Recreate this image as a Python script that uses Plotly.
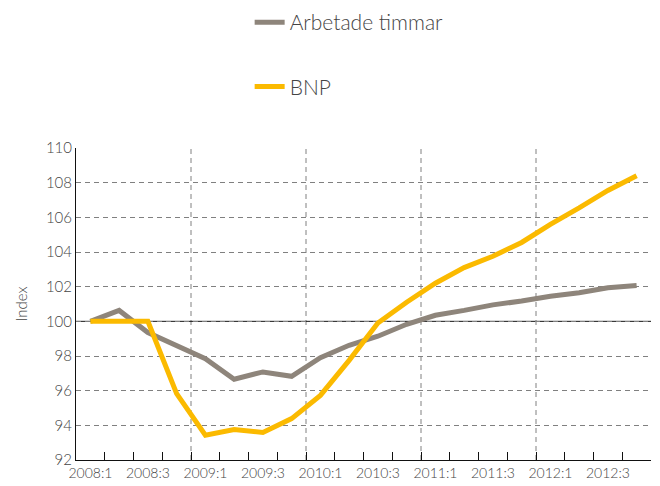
import plotly.graph_objects as go

quarters = ["2008:1", "2008:2", "2008:3", "2008:4",
            "2009:1", "2009:2", "2009:3", "2009:4",
            "2010:1", "2010:2", "2010:3", "2010:4",
            "2011:1", "2011:2", "2011:3", "2011:4",
            "2012:1", "2012:2", "2012:3", "2012:4"]
arbetade_timmar = [100.0, 100.63, 99.35, 98.62, 97.85, 96.66, 97.08, 96.83, 97.9, 98.62,
                   99.14, 99.83, 100.35, 100.63, 100.95, 101.17, 101.45, 101.65, 101.94, 102.07]
bnp = [100.0, 100.0, 100.0, 95.83, 93.43, 93.76, 93.59, 94.39, 95.73, 97.75,
       99.9, 101.1, 102.2, 103.1, 103.75, 104.55, 105.6, 106.55, 107.55, 108.4]
tick_labels = [q if i % 2 == 0 else "" for i, q in enumerate(quarters)]
year_starts = ["2009:1", "2010:1", "2011:1", "2012:1"]
y_ticks = list(range(92, 111, 2))

GRAY = "#8E857B"
YELLOW = "#FBBA00"
FONT = "Lato"

fig = go.Figure()
fig.add_trace(go.Scatter(x=quarters, y=arbetade_timmar, mode="lines", name="Arbetade timmar",
                         line=dict(color=GRAY, width=5), legendgroup="a"))
fig.add_trace(go.Scatter(x=quarters, y=bnp, mode="lines", name="BNP",
                         line=dict(color=YELLOW, width=5), legendgroup="b"))

shapes = []
for q in year_starts:
    idx = quarters.index(q)
    shapes.append(dict(type="line", xref="x", yref="paper", x0=idx - 0.5, x1=idx - 0.5, y0=0, y1=1,
                       line=dict(color="#808080", width=1, dash="5px,4px"), layer="below"))
shapes.append(dict(type="line", xref="paper", yref="y", x0=0, x1=1, y0=100, y1=100,
                   line=dict(color="#111111", width=1), layer="below"))

# page body has an 8px margin, so the figure is 8px smaller and offset
fig.update_layout(
    width=652, height=478,
    margin=dict(l=68, r=9, t=140, b=26, autoexpand=False),
    paper_bgcolor="white", plot_bgcolor="white",
    font=dict(family=FONT, color="#444444", size=14),
    shapes=shapes,
    showlegend=True,
    legend=dict(xref="paper", yref="paper", x=0.302, y=1.468, xanchor="left", yanchor="top",
                font=dict(size=21, color="#444444", family=FONT, weight=300),
                tracegroupgap=34, bgcolor="rgba(0,0,0,0)"),
    xaxis=dict(type="category", range=[-0.5, len(quarters) - 0.5],
               tickmode="array", tickvals=quarters, ticktext=tick_labels, tickangle=0,
               tickson="boundaries", ticks="inside", ticklen=8, tickcolor="#111111", tickwidth=1,
               showgrid=False, showline=True, linecolor="#111111", linewidth=1,
               tickfont=dict(size=14, color="#444444", family=FONT, weight=300), zeroline=False),
    yaxis=dict(range=[92, 110], tickvals=y_ticks, showgrid=True, gridcolor="#808080",
               griddash="5px,4px", gridwidth=1, showline=True, linecolor="#111111", linewidth=1,
               ticks="", zeroline=False,
               tickfont=dict(size=15, color="#444444", family=FONT, weight=300),
               title=dict(text="Index", font=dict(size=15, color="#444444", family=FONT, weight=300),
                          standoff=14)),
)

fig.write_html("out.html")
